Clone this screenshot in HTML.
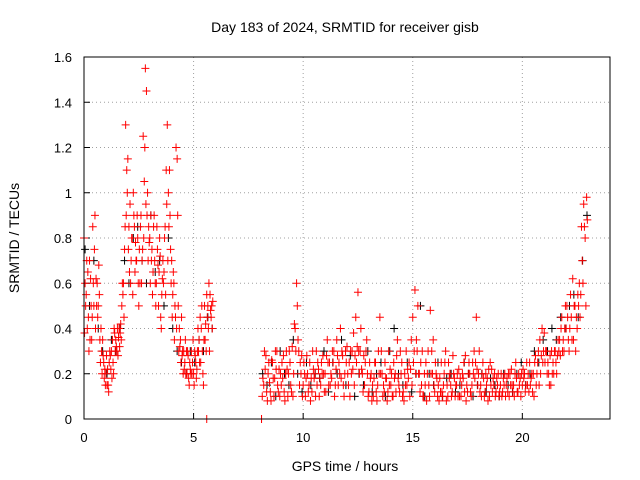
<!DOCTYPE html>
<html><head><meta charset="utf-8">
<style>
html,body{margin:0;padding:0;background:#fff;}
svg{display:block;font-family:"Liberation Sans",sans-serif;}
</style></head>
<body>
<svg id="chart" width="640" height="480" viewBox="0 0 640 480">
  <text x="345" y="32" font-size="14" text-anchor="middle">Day 183 of 2024, SRMTID for receiver gisb</text>
  <text x="345" y="471" font-size="14" text-anchor="middle">GPS time / hours</text>
  <text transform="translate(19,238) rotate(-90)" font-size="14" text-anchor="middle">SRMTID / TECUs</text>
  <g id="grid"></g>
  <g id="axes"></g>
  <g id="black"></g>
  <g id="red"></g>
  <rect x="84" y="57" width="526" height="362" fill="none" stroke="#000" stroke-width="1"/>
</svg>
<script>
const xTicks=[0,5,10,15,20];
const yTicks=[0,0.2,0.4,0.6,0.8,1,1.2,1.4,1.6];
const yTickLabels=["0","0.2","0.4","0.6","0.8","1","1.2","1.4","1.6"];
const seg1Start=0.0, seg2Start=8.1, step=0.1, blackStep=0.2;
const red1A=[0.8,0.55,0.45,0.62,0.85,0.9,0.6,0.55,0.3,0.25,0.2,0.15,0.28,0.35,0.38,0.3,0.4,0.35,0.6,1.3,1.15,0.95,0.8,0.85,0.7,0.5,0.9,1.25,1.55,1.0,0.8,0.75,0.9,0.6,0.5,0.45,0.7,0.85,1.3,1.1,0.7,0.6,1.2,0.5,0.35,0.3,0.25,0.2,0.15,0.3,0.2,0.25,0.4,0.45,0.3,0.5,0.55,0.6,0.45];
const red1B=[0.38,0.7,0.3,0.5,0.6,0.4,0.45,0.35,0.2,0.18,0.28,0.12,0.22,0.25,0.3,0.4,0.32,0.5,0.45,0.9,0.75,0.6,0.55,0.65,0.9,0.75,0.6,0.8,0.95,0.7,0.6,0.55,0.7,0.85,0.65,0.4,0.6,0.55,0.7,0.9,0.45,0.35,0.4,0.3,0.25,0.2,0.35,0.3,0.25,0.2,0.15,0.18,0.3,0.25,0.2,0.35,0.45,0.3,0.5];
const red1C=[0.6,0.4,0.7,0.35,0.5,0.62,0.5,0.25,0.35,0.22,0.15,0.25,0.3,0.2,0.35,0.28,0.38,0.6,0.75,1.1,0.85,0.7,1.0,0.78,0.8,0.6,0.7,1.05,1.45,0.85,0.9,0.65,0.6,0.75,0.8,0.55,0.65,1.1,1.0,0.75,0.55,0.5,1.15,0.4,0.45,0.3,0.2,0.28,0.22,0.25,0.3,0.22,0.35,0.4,0.15,0.42,0.5,0.55,0.4];
const red1D=[0.5,0.65,0.35,0.45,0.75,0.5,0.68,0.4,0.28,0.15,0.22,0.3,0.18,0.4,0.32,0.36,0.42,0.55,0.85,1.0,0.65,0.8,0.9,0.7,0.6,0.85,0.75,1.2,0.9,0.78,0.7,0.85,0.5,0.68,0.72,0.62,0.8,0.95,0.85,0.6,0.65,0.45,0.9,0.32,0.28,0.22,0.3,0.18,0.2,0.35,0.28,0.3,0.25,0.5,0.35,0.3,0.4,0.48,0.52];
const red2A=[0.0,0.15,0.28,0.2,0.12,0.25,0.18,0.3,0.22,
0.15,0.28,0.2,0.1,0.25,0.32,0.42,0.6,0.3,0.2,
0.15,0.1,0.2,0.25,0.12,0.18,0.3,0.22,0.15,0.28,
0.2,0.35,0.25,0.18,0.3,0.22,0.15,0.4,0.28,0.2,
0.32,0.25,0.2,0.38,0.45,0.56,0.3,0.2,0.15,0.35,
0.12,0.2,0.1,0.25,0.15,0.45,0.2,0.12,0.18,0.3,
0.15,0.1,0.2,0.35,0.12,0.25,0.08,0.3,0.18,0.22,
0.45,0.57,0.3,0.2,0.15,0.1,0.25,0.3,0.48,0.2,
0.12,0.18,0.08,0.25,0.15,0.3,0.1,0.2,0.12,0.18,
0.15,0.22,0.1,0.18,0.28,0.12,0.2,0.15,0.3,0.45,
0.2,0.15,0.25,0.12,0.18,0.1,0.22,0.15,0.12,0.2,
0.15,0.12,0.2,0.18,0.1,0.22,0.15,0.25,0.12,0.18,
0.15,0.2,0.25,0.12,0.18,0.2,0.28,0.25,0.35,0.4,
0.38,0.3,0.2,0.15,0.25,0.3,0.28,0.35,0.45,0.3,
0.4,0.35,0.55,0.62,0.5,0.4,0.6,0.85,0.95,0.5];
const red2B=[0.1,0.3,0.12,0.25,0.08,0.18,0.3,0.15,0.1,
0.25,0.12,0.3,0.2,0.15,0.1,0.4,0.5,0.15,0.28,
0.25,0.18,0.12,0.08,0.3,0.2,0.15,0.1,0.25,0.2,
0.12,0.25,0.15,0.3,0.1,0.35,0.25,0.18,0.15,0.3,
0.2,0.1,0.3,0.15,0.25,0.3,0.4,0.12,0.25,0.2,
0.25,0.08,0.18,0.12,0.3,0.2,0.1,0.25,0.08,0.15,
0.2,0.25,0.12,0.18,0.3,0.1,0.2,0.15,0.25,0.35,
0.25,0.2,0.5,0.12,0.3,0.2,0.08,0.15,0.2,0.35,
0.25,0.1,0.18,0.12,0.2,0.08,0.25,0.15,0.28,0.1,
0.2,0.1,0.15,0.25,0.08,0.2,0.12,0.25,0.18,0.22,
0.3,0.1,0.18,0.2,0.08,0.25,0.12,0.2,0.18,0.1,
0.2,0.18,0.1,0.12,0.2,0.15,0.1,0.18,0.2,0.1,
0.22,0.12,0.15,0.25,0.2,0.1,0.15,0.3,0.2,0.25,
0.25,0.2,0.15,0.3,0.2,0.25,0.35,0.28,0.3,0.4,
0.5,0.3,0.45,0.35,0.3,0.55,0.45,0.7,0.85,0.98];
const red2C=[0.18,0.22,0.08,0.16,0.26,0.1,0.22,0.12,0.2,
0.18,0.08,0.22,0.3,0.12,0.2,0.3,0.35,0.25,0.1,
0.2,0.28,0.15,0.18,0.22,0.1,0.25,0.18,0.2,0.12,
0.28,0.15,0.2,0.25,0.15,0.28,0.2,0.3,0.1,0.25,
0.15,0.3,0.22,0.28,0.32,0.2,0.22,0.28,0.3,0.1,
0.18,0.15,0.25,0.08,0.2,0.3,0.15,0.18,0.12,0.22,
0.1,0.18,0.28,0.15,0.2,0.12,0.15,0.22,0.1,0.15,
0.3,0.35,0.2,0.25,0.1,0.15,0.2,0.1,0.3,0.15,
0.2,0.15,0.12,0.1,0.25,0.15,0.18,0.1,0.2,0.15,
0.1,0.18,0.2,0.12,0.15,0.25,0.1,0.2,0.25,0.15,
0.12,0.2,0.1,0.15,0.22,0.15,0.18,0.1,0.15,0.12,
0.1,0.15,0.15,0.2,0.15,0.12,0.2,0.12,0.15,0.2,
0.18,0.15,0.2,0.15,0.12,0.25,0.2,0.15,0.28,0.3,
0.3,0.25,0.28,0.2,0.3,0.2,0.3,0.4,0.35,0.5,
0.45,0.4,0.35,0.5,0.45,0.5,0.55,0.6,0.8,0.88];
const black1=[0.75,0.5,0.7,0.4,0.3,0.2,0.35,0.3,0.4,0.7,0.6,0.8,0.85,0.7,0.6,0.9,0.65,0.7,0.5,0.8,0.4,0.3,0.25,0.2,0.3,0.25,0.35,0.3,0.45,0.4];
const black2=[0.2,0.15,0.25,0.1,0.3,0.2,0.15,0.35,0.2,0.12,0.25,0.15,0.2,0.18,0.3,0.12,0.25,0.2,0.35,0.15,0.28,0.1,0.2,0.15,0.3,0.12,0.2,0.25,0.1,0.3,0.4,0.2,0.15,0.25,0.12,0.2,0.5,0.1,0.2,0.15,0.25,0.1,0.18,0.2,0.12,0.15,0.25,0.2,0.1,0.15,0.2,0.12,0.18,0.15,0.1,0.2,0.15,0.12,0.2,0.25,0.15,0.2,0.3,0.25,0.35,0.3,0.4,0.35,0.45,0.4,0.5,0.55,0.45,0.7,0.9];
const zeroTimes=[5.6,8.1];

const NS="http://www.w3.org/2000/svg";
const L=84,R=610,T=57,B=419,XMAX=24,YMAX=1.6;
function xs(v){return L+v/XMAX*(R-L);}
function ys(v){return B-v/YMAX*(B-T);}
function mk(tag,attrs,parent){const e=document.createElementNS(NS,tag);for(const k in attrs)e.setAttribute(k,attrs[k]);parent.appendChild(e);return e;}
const grid=document.getElementById('grid'),axes=document.getElementById('axes');
xTicks.forEach(t=>{
  const x=xs(t);
  if(t>0){const g=mk('line',{x1:x,y1:T,x2:x,y2:B,stroke:'#a0a0a0','stroke-dasharray':'1,3'},grid);
  
  }
  const tk=mk('line',{x1:x,y1:B,x2:x,y2:B-6,stroke:'#000'},axes);
  
  
  const tx=mk('text',{x:x,y:B+23,'font-size':13,'text-anchor':'middle'},axes);
  tx.textContent=String(t);
  
  
});
yTicks.forEach((t,i)=>{
  const y=ys(t);
  if(t>0&&t<YMAX){const g=mk('line',{x1:L,y1:y,x2:R,y2:y,stroke:'#a0a0a0','stroke-dasharray':'1,3'},grid);
  
  }
  const tk=mk('line',{x1:L,y1:y,x2:L+6,y2:y,stroke:'#000'},axes);
  
  
  const tx=mk('text',{x:L-12,y:y+5,'font-size':13,'text-anchor':'end'},axes);
  tx.textContent=yTickLabels[i];
  
  
});
function plus(g,t,v,color){
  const x=xs(t),y=ys(v),d=4;
  const p=mk('path',{d:`M${x-d} ${y}H${x+d}M${x} ${y-d}V${y+d}`,stroke:color,'stroke-width':1,fill:'none'},g);
  
  
}
const gb=document.getElementById('black'),gr=document.getElementById('red');
black1.forEach((v,i)=>plus(gb,seg1Start+i*blackStep+0.05,v,'#000'));
black2.forEach((v,i)=>plus(gb,seg2Start+i*blackStep+0.05,v,'#000'));
[red1A,red1B,red1C,red1D].forEach((arr,k)=>arr.forEach((v,i)=>plus(gr,seg1Start+i*step+k*0.025,v,'#ff0000')));
[red2A,red2B,red2C].forEach((arr,k)=>arr.forEach((v,i)=>plus(gr,seg2Start+i*step+k*0.033,v,'#ff0000')));
zeroTimes.forEach(t=>plus(gr,t,0,'#ff0000'));
</script>
</body></html>
